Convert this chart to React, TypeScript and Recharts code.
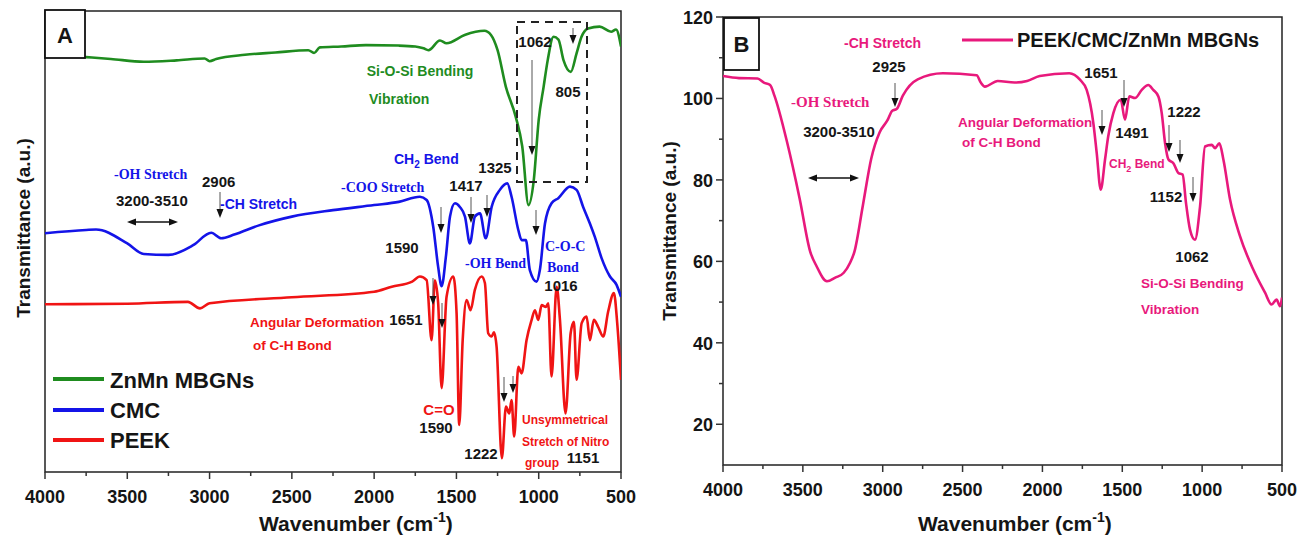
import React from 'react'
import { LineChart, Line, XAxis, YAxis, ReferenceArea } from 'recharts'

// ---- panel A: individual spectra (stacked, arbitrary units) ----
const znmnWn = [4000, 3900, 3750, 3600, 3400, 3200, 3030, 3000, 2960, 2785, 2600, 2400, 2365, 2330, 2200, 2050, 1850, 1750, 1700, 1670, 1600, 1560, 1450, 1330, 1290, 1250, 1200, 1140, 1100, 1062, 1030, 1000, 970, 945, 910, 880, 850, 805, 770, 740, 700, 630, 560, 530, 500]
const znmnT = [90.5, 90.4, 90.0, 89.6, 89.0, 89.3, 89.7, 89.1, 89.6, 90.5, 91.0, 91.5, 90.9, 92.1, 92.3, 92.6, 92.5, 92.3, 91.9, 91.5, 93.6, 93.0, 94.8, 95.7, 94.8, 91.5, 83.6, 77.1, 70.6, 57.9, 63.3, 76.4, 83.6, 89.4, 94.4, 93.8, 89.4, 86.8, 90.8, 94.4, 96.2, 96.6, 95.5, 96.0, 92.3]

const cmcWn = [4000, 3750, 3690, 3500, 3400, 3250, 3100, 2990, 2930, 2850, 2700, 2500, 2250, 2000, 1850, 1722, 1681, 1641, 1611, 1590, 1564, 1539, 1509, 1479, 1448, 1418, 1388, 1357, 1322, 1286, 1236, 1191, 1165, 1124, 1104, 1078, 1054, 1013, 993, 962, 922, 881, 810, 770, 730, 689, 659, 618, 567, 527, 500]
const cmcT = [51.8, 52.5, 52.6, 49.6, 47.3, 47.1, 49.2, 51.9, 50.7, 51.5, 53.5, 55.4, 56.8, 57.9, 58.6, 59.7, 59.0, 53.2, 44.5, 40.3, 46.7, 55.4, 58.3, 57.5, 55.4, 49.6, 55.4, 56.1, 50.7, 57.5, 61.2, 62.6, 59.7, 52.5, 50.3, 50.3, 43.8, 41.3, 43.8, 53.9, 58.3, 59.4, 61.9, 61.2, 57.5, 53.9, 51.0, 46.4, 42.4, 40.6, 38.0]

const peekWn = [4000, 3500, 3132, 3058, 3000, 2500, 2000, 1893, 1769, 1722, 1681, 1651, 1631, 1611, 1590, 1560, 1519, 1499, 1483, 1462, 1438, 1414, 1388, 1347, 1327, 1307, 1286, 1272, 1256, 1224, 1199, 1179, 1165, 1149, 1124, 1104, 1074, 1043, 1023, 1003, 982, 956, 942, 922, 891, 871, 837, 806, 786, 770, 739, 709, 689, 665, 639, 608, 578, 543, 523, 500]
const peekT = [36.4, 36.5, 36.9, 35.5, 36.6, 37.9, 39.1, 40.2, 41.3, 42.4, 41.6, 28.6, 41.6, 36.6, 18.2, 38.0, 42.4, 34.4, 10.2, 28.6, 37.3, 35.1, 39.5, 42.4, 41.0, 30.1, 29.4, 30.3, 27.2, 3.0, 14.2, 12.7, 15.6, 7.7, 22.8, 21.4, 28.6, 33.0, 35.1, 33.0, 36.2, 35.8, 36.6, 20.7, 40.2, 33.0, 12.7, 30.1, 32.6, 20.0, 32.3, 33.7, 28.6, 33.0, 31.5, 29.4, 34.8, 38.8, 32.3, 20.0]

// ---- panel B: composite ----
const compWn = [4000, 3900, 3784, 3744, 3705, 3678, 3599, 3520, 3454, 3414, 3349, 3297, 3244, 3205, 3177, 3124, 3072, 3019, 2971, 2940, 2913, 2874, 2781, 2623, 2412, 2386, 2360, 2280, 2175, 2096, 2017, 1832, 1765, 1723, 1681, 1660, 1635, 1608, 1588, 1556, 1510, 1483, 1456, 1420, 1378, 1337, 1306, 1274, 1253, 1232, 1211, 1180, 1149, 1122, 1101, 1076, 1045, 1013, 982, 940, 919, 892, 867, 825, 763, 680, 606, 565, 534, 513, 500]
const compT = [105.5, 105.0, 104.9, 103.9, 103.3, 100.7, 89.3, 75.4, 62.4, 58.8, 55.1, 56.0, 57.2, 59.6, 62.4, 73.8, 85.2, 91.7, 94.6, 97.0, 97.4, 100.7, 104.7, 106.2, 105.7, 103.9, 102.9, 104.3, 103.9, 104.3, 105.5, 106.2, 104.6, 102.1, 93.9, 86.6, 77.6, 85.0, 90.7, 96.4, 99.7, 94.8, 100.5, 100.1, 102.1, 103.3, 102.1, 100.5, 96.4, 89.0, 85.0, 84.1, 81.7, 81.3, 74.3, 67.8, 65.3, 73.5, 88.2, 88.6, 87.8, 89.0, 85.0, 75.1, 66.2, 58.0, 52.3, 49.4, 50.6, 49.0, 51.1]

const xTicks = [4000, 3750, 3500, 3250, 3000, 2750, 2500, 2250, 2000, 1750, 1500, 1250, 1000, 750, 500]
const yTicksB = [20, 30, 40, 50, 60, 70, 80, 90, 100, 110, 120]

const toRows = (wn: number[], t: number[]) => wn.map((w, i) => ({ wn: w, t: t[i] }))

const sans = "Arial, 'Liberation Sans', sans-serif"
const serif = "'Times New Roman', 'Liberation Serif', serif"
const GREEN = '#1f8c1f'
const BLUE = '#1414e8'
const RED = '#f01414'
const PINK = '#e8197c'
const INK = '#151515'

function XTick(props: any) {
  const { x, y, payload } = props
  const major = payload.value % 500 === 0
  return (
    <g>
      <line x1={x} x2={x} y1={y} y2={y + (major ? 7 : 4)} stroke="#333" strokeWidth={1.5} />
      {major && (
        <text x={x} y={y + 31} textAnchor="middle" fontFamily={sans} fontWeight="bold" fontSize={18} fill={INK}>
          {payload.value}
        </text>
      )}
    </g>
  )
}

function YTick(props: any) {
  const { x, y, payload } = props
  const major = payload.value % 20 === 0
  return (
    <g>
      <line x1={x} x2={x - (major ? 7 : 4)} y1={y} y2={y} stroke="#333" strokeWidth={1.5} />
      {major && (
        <text x={x - 10} y={y + 7} textAnchor="end" fontFamily={sans} fontWeight="bold" fontSize={18} fill={INK}>
          {payload.value}
        </text>
      )}
    </g>
  )
}

function Down({ x, y1, y2 }: { x: number; y1: number; y2: number }) {
  return (
    <g>
      <line x1={x} x2={x} y1={y1} y2={y2 - 6} stroke="#555" strokeWidth={1} />
      <polygon points={`${x - 3.5},${y2 - 9} ${x + 3.5},${y2 - 9} ${x},${y2}`} fill="#111" />
    </g>
  )
}

function Both({ x1, x2, y }: { x1: number; x2: number; y: number }) {
  return (
    <g>
      <line x1={x1 + 6} x2={x2 - 6} y1={y} y2={y} stroke="#111" strokeWidth={1.3} />
      <polygon points={`${x1},${y} ${x1 + 9},${y - 3.5} ${x1 + 9},${y + 3.5}`} fill="#111" />
      <polygon points={`${x2},${y} ${x2 - 9},${y - 3.5} ${x2 - 9},${y + 3.5}`} fill="#111" />
    </g>
  )
}

function T({ x, y, c = INK, s = 15, f = sans, a = 'start', children }: any) {
  return (
    <text x={x} y={y} fill={c} fontSize={s} fontFamily={f} fontWeight="bold" textAnchor={a}>
      {children}
    </text>
  )
}

function Wavenumber({ x }: { x: number }) {
  return (
    <text x={x} y={531} fontFamily={sans} fontWeight="bold" fontSize={21} fill={INK}>
      Wavenumber (cm<tspan dy={-9} fontSize={14}>-1</tspan>
      <tspan dy={9}>)</tspan>
    </text>
  )
}

export default function App() {
  return (
    <div style={{ position: 'absolute', left: 0, top: 0, width: 1309, height: 541, background: '#fff' }}>
      <div style={{ position: 'absolute', left: 0, top: 0 }}>
        <LineChart width={640} height={541} margin={{ top: 11, right: 19, bottom: 9, left: 45 }}>
          <XAxis dataKey="wn" type="number" domain={[500, 4000]} reversed ticks={xTicks} interval={0}
            tick={<XTick />} tickSize={0} tickMargin={0} tickLine={false} axisLine={false} height={60} allowDataOverflow />
          <YAxis type="number" domain={[0, 100]} hide allowDataOverflow />
          <ReferenceArea x1={4000} x2={500} y1={0} y2={100} fill="none" stroke="#222" strokeWidth={1.5} />
          <Line data={toRows(znmnWn, znmnT)} dataKey="t" type="monotone" dot={false} stroke={GREEN} strokeWidth={2.6} isAnimationActive={false} />
          <Line data={toRows(cmcWn, cmcT)} dataKey="t" type="monotone" dot={false} stroke={BLUE} strokeWidth={2.6} isAnimationActive={false} />
          <Line data={toRows(peekWn, peekT)} dataKey="t" type="monotone" dot={false} stroke={RED} strokeWidth={2.6} isAnimationActive={false} />
        </LineChart>
      </div>
      <div style={{ position: 'absolute', left: 640, top: 0 }}>
        <LineChart width={669} height={541} margin={{ top: 17, right: 27, bottom: 16, left: 23 }}>
          <XAxis dataKey="wn" type="number" domain={[500, 4000]} reversed ticks={xTicks} interval={0}
            tick={<XTick />} tickSize={0} tickMargin={0} tickLine={false} axisLine={false} height={60} allowDataOverflow />
          <YAxis type="number" domain={[10, 120]} ticks={yTicksB} interval={0} width={60}
            tick={<YTick />} tickSize={0} tickMargin={0} tickLine={false} axisLine={false} allowDataOverflow />
          <ReferenceArea x1={4000} x2={500} y1={10} y2={120} fill="none" stroke="#222" strokeWidth={1.5} />
          <Line data={toRows(compWn, compT)} dataKey="t" type="monotone" dot={false} stroke={PINK} strokeWidth={2.6} isAnimationActive={false} />
        </LineChart>
      </div>

      <svg width={1309} height={541} style={{ position: 'absolute', left: 0, top: 0, pointerEvents: 'none' }}>
        {/* ---------- panel A ---------- */}
        <rect x={45} y={10} width={40} height={48} fill="#fff" stroke="#111" strokeWidth={1.8} />
        <T x={65} y={43} s={22} a="middle">A</T>
        <text x={23} y={228} transform="rotate(-90 23 228)" textAnchor="middle" dominantBaseline="central"
          fontFamily={sans} fontWeight="bold" fontSize={19} fill={INK}>Transmittance (a.u.)</text>
        <Wavenumber x={259} />

        <rect x={517} y={22} width={70} height={160} fill="none" stroke="#222" strokeWidth={2} strokeDasharray="8 6" />
        <T x={535} y={47} a="middle">1062</T>
        <T x={568} y={97} a="middle">805</T>
        <Down x={532} y1={60} y2={155} />
        <Down x={573} y1={28} y2={44} />
        <T x={420} y={76} c={GREEN} s={14} a="middle">Si-O-Si Bending</T>
        <T x={369} y={104} c={GREEN} s={14}>Vibration</T>

        <T x={394} y={164} c={BLUE} s={14}>CH<tspan dy={4} fontSize={10}>2</tspan><tspan dy={-4}> Bend</tspan></T>
        <T x={114} y={179} c={BLUE} s={14} f={serif}>-OH Stretch</T>
        <T x={202} y={187}>2906</T>
        <T x={116} y={206}>3200-3510</T>
        <Both x1={127} x2={178} y={222} />
        <T x={220} y={209} c={BLUE} s={14}>-CH Stretch</T>
        <Down x={220} y1={192} y2={218} />
        <T x={341} y={192} c={BLUE} s={14} f={serif}>-COO Stretch</T>
        <T x={466} y={191} a="middle">1417</T>
        <T x={495} y={173} a="middle">1325</T>
        <Down x={441} y1={207} y2={233} />
        <Down x={471} y1={197} y2={223} />
        <Down x={487} y1={195} y2={217} />
        <Down x={536} y1={210} y2={235} />
        <T x={402} y={253} a="middle">1590</T>
        <T x={465} y={268} c={BLUE} s={14} f={serif}>-OH Bend</T>
        <T x={545} y={251} c={BLUE} s={14} f={serif}>C-O-C</T>
        <T x={547} y={272} c={BLUE} s={14} f={serif}>Bond</T>
        <T x={561} y={291} a="middle">1016</T>

        <T x={250} y={327} c={RED} s={13.5}>Angular Deformation</T>
        <T x={253} y={350} c={RED} s={13.5}>of C-H Bond</T>
        <T x={406} y={325} a="middle">1651</T>
        <Down x={433} y1={278} y2={305} />
        <Down x={442} y1={303} y2={328} />
        <T x={439} y={415} c={RED} s={15} a="middle">C=O</T>
        <T x={436} y={433} a="middle">1590</T>
        <T x={481} y={459} a="middle">1222</T>
        <Down x={504} y1={377} y2={402} />
        <Down x={513} y1={376} y2={393} />
        <T x={522} y={424} c={RED} s={12}>Unsymmetrical</T>
        <T x={522} y={446} c={RED} s={12}>Stretch of Nitro</T>
        <T x={525} y={467} c={RED} s={12}>group</T>
        <T x={583} y={463} a="middle">1151</T>

        <line x1={53} x2={104} y1={379} y2={379} stroke={GREEN} strokeWidth={4} />
        <line x1={53} x2={104} y1={410} y2={410} stroke={BLUE} strokeWidth={4} />
        <line x1={53} x2={104} y1={440} y2={440} stroke={RED} strokeWidth={4} />
        <T x={110} y={388} s={22}>ZnMn MBGNs</T>
        <T x={110} y={418} s={22}>CMC</T>
        <T x={110} y={448} s={22}>PEEK</T>

        {/* ---------- panel B ---------- */}
        <rect x={724} y={18} width={35} height={52} fill="#fff" stroke="#111" strokeWidth={1.8} />
        <T x={741.5} y={52} s={22} a="middle">B</T>
        <text x={669} y={231} transform="rotate(-90 669 231)" textAnchor="middle" dominantBaseline="central"
          fontFamily={sans} fontWeight="bold" fontSize={19} fill={INK}>Transmittance (a.u.)</text>
        <Wavenumber x={918} />

        <line x1={962} x2={1013} y1={40} y2={40} stroke={PINK} strokeWidth={3} />
        <T x={1017} y={47} s={20}>PEEK/CMC/ZnMn MBGNs</T>

        <T x={844} y={48} c={PINK} s={14}>-CH Stretch</T>
        <T x={889} y={72} a="middle">2925</T>
        <Down x={895} y1={83} y2={107} />
        <T x={791} y={107} c={PINK} s={15} f={serif}>-OH Stretch</T>
        <T x={839} y={137} a="middle">3200-3510</T>
        <Both x1={808} x2={859} y={178} />

        <T x={958} y={127} c={PINK} s={13.5}>Angular Deformation</T>
        <T x={962} y={147} c={PINK} s={13.5}>of C-H Bond</T>
        <T x={1101} y={78} a="middle">1651</T>
        <Down x={1102} y1={110} y2={135} />
        <T x={1132} y={138} a="middle">1491</T>
        <Down x={1124} y1={80} y2={107} />
        <T x={1184} y={117} a="middle">1222</T>
        <Down x={1169} y1={125} y2={152} />
        <Down x={1180} y1={140} y2={163} />
        <T x={1109} y={168} c={PINK} s={12}>CH<tspan dy={4} fontSize={9}>2</tspan><tspan dy={-4}> Bend</tspan></T>
        <T x={1166} y={202} a="middle">1152</T>
        <Down x={1193} y1={177} y2={202} />
        <T x={1192} y={262} a="middle">1062</T>
        <T x={1141} y={288} c={PINK} s={13.5}>Si-O-Si Bending</T>
        <T x={1141} y={314} c={PINK} s={13.5}>Vibration</T>
      </svg>
    </div>
  )
}
